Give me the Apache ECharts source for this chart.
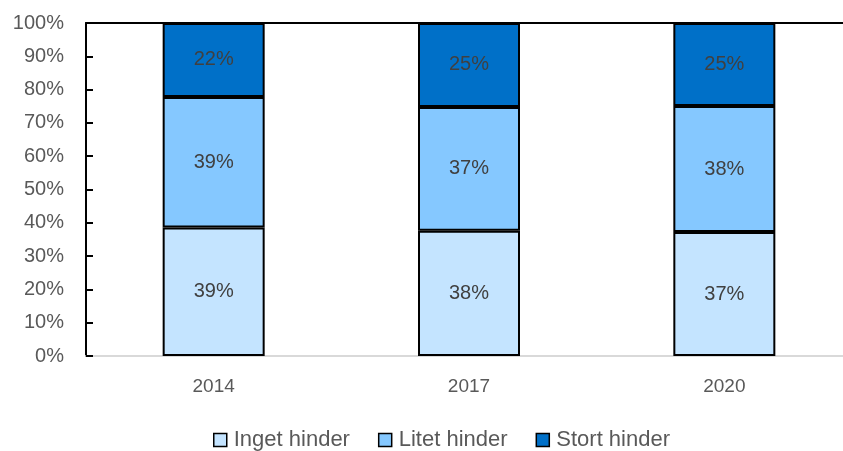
<!DOCTYPE html>
<html><head><meta charset="utf-8">
<script src="https://cdn.jsdelivr.net/npm/echarts@6/dist/echarts.min.js"></script>
<style>html,body{margin:0;padding:0;background:#fff}#c{width:843px;height:451px}</style>
</head><body><div id="c"></div>
<script>
const categories = ['2014', '2017', '2020'];
const ingetHinder = [38.6, 37.6, 37.2];
const litetHinder = [39.2, 37.2, 37.9];
const stortHinder = [22.2, 25.2, 24.9];
const yTicks = [0, 10, 20, 30, 40, 50, 60, 70, 80, 90, 100];

const font = "'Liberation Sans', 'Open Sans', sans-serif";
const chart = echarts.init(document.getElementById('c'));
function mk(name, data, color) {
  return {
    name, type: 'bar', stack: 'a', data, barWidth: 102,
    itemStyle: { color, borderColor: '#000', borderWidth: 2 },
    label: { show: true, position: 'inside', color: '#404040', fontSize: 20, fontFamily: font,
      formatter: p => Math.round(p.value) + '%' },
    emphasis: { disabled: true }
  };
}
chart.setOption({
  animation: false,
  grid: { left: 86, top: 23, bottom: 95, width: 766, outerBoundsMode: 'none' },
  legend: {
    bottom: -5, left: 208, itemWidth: 13, itemHeight: 13, itemGap: 28, icon: 'rect',
    textStyle: { fontSize: 22, color: '#595959', fontFamily: font, padding: [0, 0, 0, 2] },
    itemStyle: { borderColor: '#000', borderWidth: 1.5 },
    data: ['Inget hinder', 'Litet hinder', 'Stort hinder']
  },
  xAxis: [{
    type: 'category', data: categories,
    axisLine: { lineStyle: { color: '#d9d9d9', width: 2 } },
    axisTick: { show: false },
    axisLabel: { color: '#595959', fontSize: 19, fontFamily: font, margin: 21 }
  }, {
    type: 'category', data: categories, position: 'top',
    axisLine: { lineStyle: { color: '#000', width: 2 } },
    axisTick: { show: false }, axisLabel: { show: false }
  }],
  yAxis: {
    type: 'value', min: 0, max: 100, interval: 10,
    axisLine: { show: true, lineStyle: { color: '#000', width: 2 } },
    axisTick: { show: true, inside: true, length: 7, lineStyle: { color: '#000', width: 2 } },
    splitLine: { show: false },
    axisLabel: { color: '#595959', fontSize: 20, fontFamily: font, margin: 22,
      formatter: v => yTicks.includes(v) ? v + '%' : '' }
  },
  series: [
    mk('Inget hinder', ingetHinder, '#C4E4FF'),
    mk('Litet hinder', litetHinder, '#85C8FF'),
    mk('Stort hinder', stortHinder, '#0070C8')
  ]
});
</script></body></html>
